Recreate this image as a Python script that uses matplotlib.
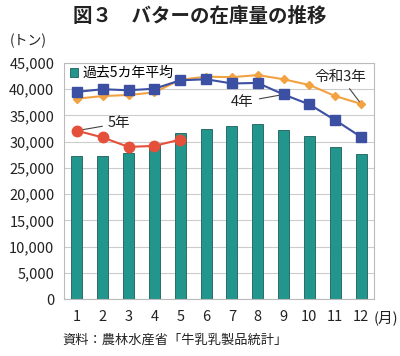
import matplotlib
matplotlib.use("Agg")
import matplotlib.pyplot as plt
from matplotlib.ticker import FuncFormatter, MultipleLocator

plt.rcParams['font.family'] = ['Noto Sans CJK JP', 'DejaVu Sans']

months = list(range(1, 13))
month_labels = [str(m) for m in months]
avg5 = [27300, 27300, 27900, 29300, 31600, 32500, 32900, 33400, 32200, 31000, 29000, 27600]
r3 = [38200, 38700, 38900, 39400, 41800, 42400, 42300, 42700, 41900, 40800, 38700, 37200]
r4 = [39500, 40000, 39800, 40100, 41700, 41900, 41100, 41200, 39000, 37100, 34100, 30900]
r5 = [32100, 30800, 29000, 29200, 30400]

c_bar = '#22968c'
c_r3 = '#f2a240'
c_r4 = '#3b4fa3'
c_r5 = '#e5503a'

fig = plt.figure(figsize=(4.0, 3.56), dpi=100)
ax = fig.add_axes([0.16, 0.16, 0.775, 0.663])

ax.bar(months, avg5, width=0.42, color=c_bar, edgecolor='#1d5e58', linewidth=0.6,
       label='過去5カ年平均', zorder=2)
ax.plot(months, r3, color=c_r3, marker='D', markersize=4.5, linewidth=1.5, zorder=3)
ax.plot(months, r4, color=c_r4, marker='s', markersize=6.5, linewidth=1.5, zorder=4)
ax.plot(months[:len(r5)], r5, color=c_r5, marker='o', markersize=7.5, linewidth=1.5, zorder=5)

ax.set_xlim(0.5, 12.5)
ax.set_ylim(0, 45000)
ax.yaxis.set_major_locator(MultipleLocator(5000))
ax.yaxis.set_major_formatter(FuncFormatter(lambda v, p: f"{int(v):,}"))
ax.set_xticks(months)
ax.set_xticklabels(month_labels)
ax.tick_params(axis='both', length=0, labelsize=10.5, colors='#222222')
ax.tick_params(axis='x', pad=8)
ax.tick_params(axis='y', pad=7)
ax.grid(axis='y', color='#cccccc', linewidth=0.8, zorder=0)
ax.set_axisbelow(True)
for s in ax.spines.values():
    s.set_color('#bbbbbb')
    s.set_linewidth(0.8)

ax.legend(loc='upper left', frameon=False, fontsize=10, handlelength=0.6, handleheight=0.6,
          handletextpad=0.3, borderaxespad=0.0, bbox_to_anchor=(0.0, 1.01))

ann = dict(arrowprops=dict(arrowstyle='-', color='#444444', lw=0.8), fontsize=10.5, color='#222222')
ax.annotate('5年', xy=(months[0], r5[0]), xytext=(2.2, 33500), va='center', ha='left', **ann)
ax.annotate('4年', xy=(months[8], r4[8]), xytext=(7.85, 37600), va='center', ha='right', **ann)
ax.annotate('令和3年', xy=(months[11], r3[11]), xytext=(11.2, 42400), va='center', ha='center', **ann)

fig.text(0.5, 0.955, '図３　バターの在庫量の推移', ha='center', va='center', fontsize=14,
         fontweight='bold', color='#222222')
fig.text(0.025, 0.885, '(トン)', ha='left', va='center', fontsize=10, color='#222222')
fig.text(0.933, 0.108, '(月)', ha='left', va='center', fontsize=10.5, color='#222222')
fig.text(0.155, 0.045, '資料：農林水産省「牛乳乳製品統計」', ha='left', va='center', fontsize=9.5,
         color='#222222')

fig.savefig('out.png', dpi=100, facecolor='white')
